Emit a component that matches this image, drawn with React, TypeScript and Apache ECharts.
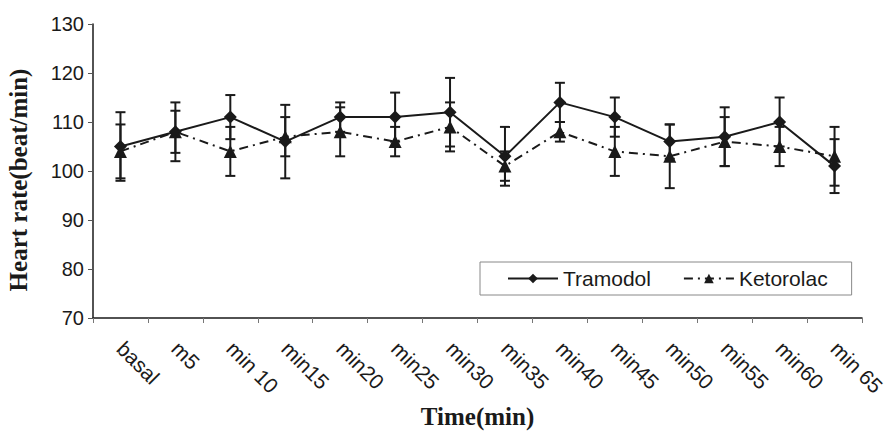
import React, { useEffect, useRef } from "react";
import * as echarts from "echarts";

const categories = ["basal", "m5", "min 10", "min15", "min20", "min25", "min30", "min35", "min40", "min45", "min50", "min55", "min60", "min 65"];
const tramodol = [105, 108, 111, 106, 111, 111, 112, 103, 114, 111, 106, 107, 110, 101];
const tramodolErr = [7, 6, 4.5, 7.5, 3, 5, 7, 6, 4, 4, 3.5, 6, 5, 5.5];
const ketorolac = [104, 108, 104, 107, 108, 106, 109, 101, 108, 104, 103, 106, 105, 103];
const ketorolacErr = [5.5, 4.3, 5, 4, 5, 3, 5, 3, 2, 5, 6.5, 5, 4, 6];
const yTicks = { min: 70, max: 130, interval: 10 };
const yTitle = "Heart rate(beat/min)";
const xTitle = "Time(min)";

const INK = "#1a1a1a";

function errorData(means: number[], errs: number[]) {
  return means.map((m, i) => [i, m - errs[i], m + errs[i]]);
}

function errorSeries(name: string, means: number[], errs: number[]) {
  return {
    type: "custom",
    name: name + "-err",
    data: errorData(means, errs),
    encode: { x: 0, y: [1, 2] },
    z: 1,
    silent: true,
    renderItem: (params: any, api: any) => {
      const x = api.value(0);
      const lo = api.coord([x, api.value(1)]);
      const hi = api.coord([x, api.value(2)]);
      const cw = 5;
      const style = { stroke: INK, lineWidth: 2 };
      return {
        type: "group",
        children: [
          { type: "line", shape: { x1: hi[0], y1: hi[1], x2: lo[0], y2: lo[1] }, style },
          { type: "line", shape: { x1: hi[0] - cw, y1: hi[1], x2: hi[0] + cw, y2: hi[1] }, style },
          { type: "line", shape: { x1: lo[0] - cw, y1: lo[1], x2: lo[0] + cw, y2: lo[1] }, style },
        ],
      };
    },
  };
}

export default function App() {
  const ref = useRef<HTMLDivElement>(null);
  useEffect(() => {
    if (!ref.current) return;
    const chart = echarts.init(ref.current, null, { renderer: "svg" });
    const sans = "Liberation Sans, Arial, sans-serif";
    const serif = "Liberation Serif, Times New Roman, serif";
    chart.setOption({
      animation: false,
      backgroundColor: "#fff",
      grid: { left: 93, right: 25, top: 24, bottom: 120, outerBoundsMode: "none" },
      graphic: [
        {
          type: "text",
          x: 18,
          y: 180,
          rotation: Math.PI / 2,
          style: {
            text: yTitle,
            fontFamily: serif,
            fontWeight: "bold",
            fontSize: 25,
            fill: INK,
            align: "center",
            verticalAlign: "middle",
          },
        },
      ],
      legend: {
        data: ["Tramodol", "Ketorolac"],
        left: 480,
        top: 262,
        orient: "horizontal",
        borderColor: "#888",
        borderWidth: 1,
        padding: [6, 24, 6, 27],
        itemWidth: 50,
        itemHeight: 12,
        itemGap: 32,
        textStyle: { fontFamily: sans, fontSize: 21, color: INK },
      },
      xAxis: {
        type: "category",
        data: categories,
        boundaryGap: true,
        name: xTitle,
        nameLocation: "middle",
        nameGap: 80,
        nameTextStyle: { fontFamily: serif, fontWeight: "bold", fontSize: 25, color: INK },
        axisLine: { show: true, lineStyle: { color: INK, width: 1.5 } },
        axisTick: { show: true, alignWithLabel: false, length: 5, lineStyle: { color: "#777" } },
        axisLabel: { rotate: -45, margin: 27, fontFamily: sans, fontSize: 21, color: INK, interval: 0 },
        splitLine: { show: false },
      },
      yAxis: {
        type: "value",
        min: yTicks.min,
        max: yTicks.max,
        interval: yTicks.interval,
        axisLine: { show: true, lineStyle: { color: INK, width: 1.5 } },
        axisTick: { show: true, length: 5, lineStyle: { color: "#555" } },
        axisLabel: { margin: 9, fontFamily: sans, fontSize: 20, color: INK },
        splitLine: { show: false },
      },
      series: [
        errorSeries("Tramodol", tramodol, tramodolErr),
        errorSeries("Ketorolac", ketorolac, ketorolacErr),
        {
          type: "line",
          name: "Tramodol",
          data: tramodol,
          symbol: "diamond",
          symbolSize: 13,
          z: 3,
          lineStyle: { color: INK, width: 2, type: "solid" },
          itemStyle: { color: INK },
        },
        {
          type: "line",
          name: "Ketorolac",
          data: ketorolac,
          symbol: "triangle",
          symbolSize: 13,
          z: 3,
          lineStyle: { color: INK, width: 2, type: [9, 5, 2, 5] },
          itemStyle: { color: INK },
        },
      ],
    });
    return () => chart.dispose();
  }, []);
  return <div ref={ref} style={{ position: "fixed", left: 0, top: 0, width: 887, height: 438 }} />;
}
